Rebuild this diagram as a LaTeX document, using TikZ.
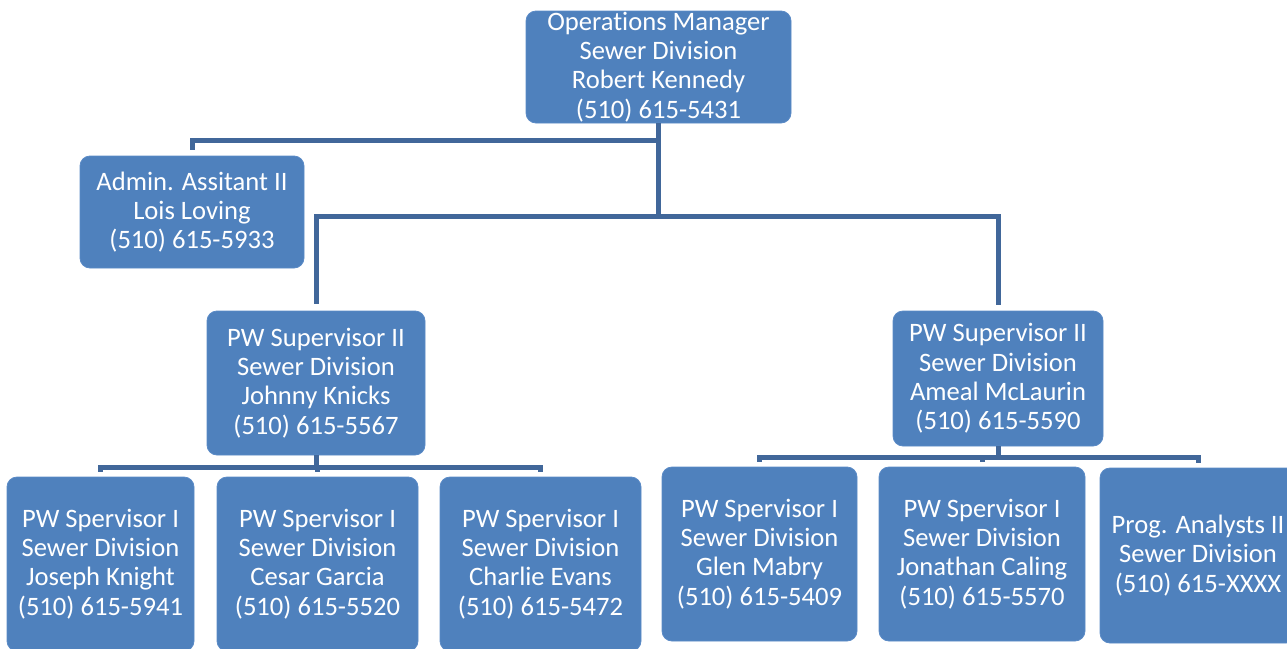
\documentclass[tikz,border=0pt]{standalone}
\usepackage{fontspec}
\setmainfont{Carlito}[Ligatures=NoCommon]
\usetikzlibrary{calc}
\definecolor{boxblue}{HTML}{4F81BD}
\definecolor{linkblue}{HTML}{41679A}
\definecolor{boxedge}{HTML}{5A8AC6}
\begin{document}
\begin{tikzpicture}[x=1pt,y=-1pt,
  box/.style={rectangle, rounded corners=10pt, fill=boxblue, draw=boxedge, line width=0.8pt,
    text=white, align=center, inner sep=0pt, font=\fontsize{26.6}{29.3}\selectfont},
  conn/.style={draw=linkblue, line width=5pt}]
\useasboundingbox (0,0) rectangle (1287,648);
\begin{scope}
\clip (0,0) rectangle (1287,648);
\node[box, minimum width=265, minimum height=112] (top) at (658.5,67) {Operations Manager\\Sewer Division\\Robert Kennedy\\(510) 615-5431};
\node[box, minimum width=224, minimum height=112] (admin) at (192,212) {Admin. Assitant II\\Lois Loving\\(510) 615-5933};
\node[box, minimum width=218, minimum height=144] (sup1) at (316,383) {PW Supervisor II\\Sewer Division\\Johnny Knicks\\(510) 615-5567};
\node[box, minimum width=210, minimum height=135] (sup2) at (998,378.5) {PW Supervisor II\\Sewer Division\\Ameal McLaurin\\(510) 615-5590};
\node[box, minimum width=187, minimum height=174] (b1) at (100.5,564) {PW Spervisor I\\Sewer Division\\Joseph Knight\\(510) 615-5941};
\node[box, minimum width=201, minimum height=174] (b2) at (317.5,564) {PW Spervisor I\\Sewer Division\\Cesar Garcia\\(510) 615-5520};
\node[box, minimum width=201, minimum height=174] (b3) at (540.5,564) {PW Spervisor I\\Sewer Division\\Charlie Evans\\(510) 615-5472};
\node[box, minimum width=195, minimum height=174] (b4) at (759.5,554) {PW Spervisor I\\Sewer Division\\Glen Mabry\\(510) 615-5409};
\node[box, minimum width=206, minimum height=174] (b5) at (982,554) {PW Spervisor I\\Sewer Division\\Jonathan Caling\\(510) 615-5570};
\node[box, minimum width=196, minimum height=175] (b6) at (1198,555.5) {Prog. Analysts II\\Sewer Division\\(510) 615-XXXX};

\coordinate (busA) at (658.5,140);
\coordinate (busB) at (658.5,216);
\coordinate (busC) at (316,467);
\coordinate (busD) at (998,457);

\draw[conn] (top.south) -- (busB);
\draw[conn] (busA) -| ($(admin.north)+(0,-6)$);
\draw[conn] ($(sup1.north)+(0,-7)$) |- (busB) -| ($(sup2.north)+(0,-6)$);

\draw[conn] (sup1.south) -- (busC);
\draw[conn] ($(b1.north)+(0,-5)$) |- (busC) -| ($(b3.north)+(0,-5)$);
\draw[conn] (busC -| b2.north) -- ($(b2.north)+(0,-5)$);

\draw[conn] (sup2.south) -- (busD);
\draw[conn] ($(b4.north)+(0,-5)$) |- (busD) -| ($(b6.north)+(0,-5)$);
\draw[conn] (busD -| b5.north) -- ($(b5.north)+(0,-5)$);
\end{scope}
\end{tikzpicture}
\end{document}
